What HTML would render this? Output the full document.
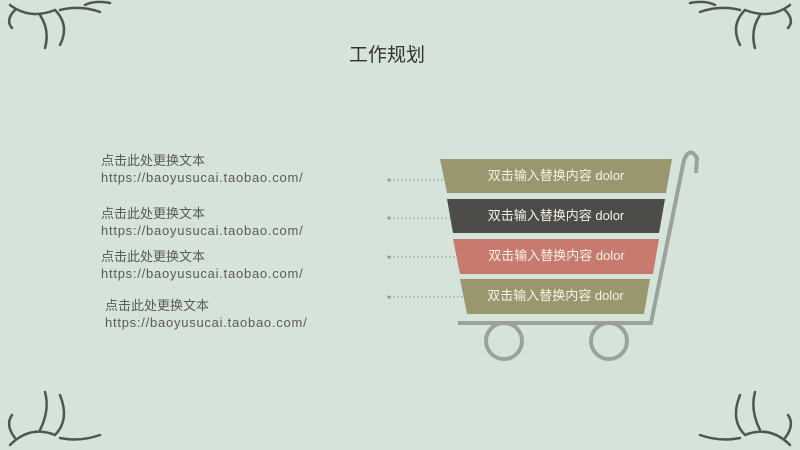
<!DOCTYPE html>
<html><head><meta charset="utf-8"><style>
html,body{margin:0;padding:0}
body{width:800px;height:450px;background:#d6e3da;position:relative;overflow:hidden;font-family:"Liberation Sans","Noto Sans CJK SC",sans-serif}
.t{position:absolute;color:#5a5a5a;font-size:13px;line-height:17px;white-space:nowrap}
.t span{letter-spacing:0.75px}
.title{position:absolute;left:349px;top:40px;font-size:19px;color:#333}
.b{position:absolute;color:#f4f1e6;font-size:13px;line-height:34px;text-align:center}
</style></head><body>
<div class="title">工作规划</div>
<div class="t" style="left:101px;top:152px">点击此处更换文本<br><span>https://baoyusucai.taobao.com/</span></div>
<div class="t" style="left:101px;top:205px">点击此处更换文本<br><span>https://baoyusucai.taobao.com/</span></div>
<div class="t" style="left:101px;top:248px">点击此处更换文本<br><span>https://baoyusucai.taobao.com/</span></div>
<div class="t" style="left:105px;top:297px">点击此处更换文本<br><span>https://baoyusucai.taobao.com/</span></div>
<svg width="800" height="450" style="position:absolute;left:0;top:0">
<g stroke="#9aa59c" stroke-width="1" stroke-dasharray="2,2" fill="#9aa59c">
<line x1="389" y1="180" x2="455" y2="180"/><circle cx="389" cy="180" r="1.5"/><circle cx="455" cy="180" r="1.5"/>
<line x1="389" y1="218" x2="460" y2="218"/><circle cx="389" cy="218" r="1.5"/><circle cx="460" cy="218" r="1.5"/>
<line x1="389" y1="257" x2="466" y2="257"/><circle cx="389" cy="257" r="1.5"/><circle cx="466" cy="257" r="1.5"/>
<line x1="389" y1="297" x2="474" y2="297"/><circle cx="389" cy="297" r="1.5"/><circle cx="474" cy="297" r="1.5"/>
</g>
<polygon points="440,159 672,159 666,193 447,193" fill="#9a966d"/>
<polygon points="447,199 665,199 659,233 453,233" fill="#4d4c48"/>
<polygon points="453,239 659,239 653,274 460,274" fill="#c97a6e"/>
<polygon points="460,279 650,279 644,314 467,314" fill="#9a966d"/>
<path d="M458,323 L651,323 L684,160 Q690,146 697,158 L696,173" stroke="#9ba29d" stroke-width="4" fill="none"/>
<circle cx="504" cy="341" r="18" stroke="#9ba29d" stroke-width="4" fill="none"/>
<circle cx="609" cy="341" r="18" stroke="#9ba29d" stroke-width="4" fill="none"/>
<g stroke="#4f5750" stroke-width="2.5" fill="none" stroke-linecap="round">
<path d="M10,5 Q30,20 55,10 Q70,25 60,45 M40,15 Q50,30 45,48 M60,10 Q80,5 100,12 M85,5 Q95,0 110,3 M15,10 Q5,20 12,28"/>
<path d="M790,5 Q770,20 745,10 Q730,25 740,45 M760,15 Q750,30 755,48 M740,10 Q720,5 700,12 M715,5 Q705,0 690,3 M785,10 Q795,20 788,28"/>
<path d="M10,445 Q30,425 55,435 Q70,420 60,395 M40,430 Q50,410 45,392 M60,438 Q80,442 100,435 M15,438 Q5,425 12,415"/>
<path d="M790,445 Q770,425 745,435 Q730,420 740,395 M760,430 Q750,410 755,392 M740,438 Q720,442 700,435 M785,438 Q795,425 788,415"/>
</g>
</svg>
<div class="b" style="left:447px;top:159px;width:218px">双击输入替换内容 dolor</div>
<div class="b" style="left:453px;top:199px;width:206px">双击输入替换内容 dolor</div>
<div class="b" style="left:460px;top:239px;width:193px">双击输入替换内容 dolor</div>
<div class="b" style="left:467px;top:279px;width:177px">双击输入替换内容 dolor</div>
</body></html>
